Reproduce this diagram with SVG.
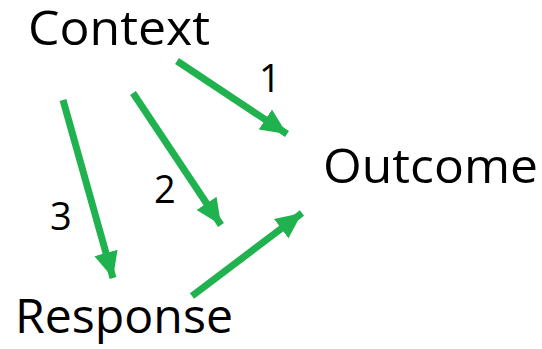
<svg xmlns="http://www.w3.org/2000/svg" width="542" height="349" viewBox="0 0 542 349">
  <style>
    .label { font-family: "Open Sans", "Liberation Sans", sans-serif; font-size: 47px; fill: #000; }
    .num { font-family: "Open Sans", "Liberation Sans", sans-serif; font-size: 38px; fill: #000; }
    .edge { stroke: #1fb24e; stroke-width: 7; fill: none; }
  </style>
  <defs>
    <marker id="head" markerUnits="userSpaceOnUse" markerWidth="28" markerHeight="28" viewBox="0 0 28 28" refX="26" refY="14" orient="auto">
      <path d="M0,2 L26,14 L0,26 Z" fill="#1fb24e"/>
    </marker>
  </defs>
  <rect width="542" height="349" fill="#fff"/>

  <g id="context"><text class="label" x="28" y="45" textLength="182" lengthAdjust="spacingAndGlyphs">Context</text></g>
  <g id="outcome"><text class="label" x="323" y="183" textLength="215" lengthAdjust="spacingAndGlyphs">Outcome</text></g>
  <g id="response"><text class="label" x="15" y="333" textLength="218" lengthAdjust="spacingAndGlyphs">Response</text></g>

  <g id="connectors">
    <line class="edge" x1="177" y1="61" x2="287" y2="134" marker-end="url(#head)"/>
    <line class="edge" x1="133" y1="93" x2="221" y2="225" marker-end="url(#head)"/>
    <line class="edge" x1="63" y1="100" x2="113" y2="278" marker-end="url(#head)"/>
    <line class="edge" x1="192" y1="296" x2="302" y2="213" marker-end="url(#head)"/>
    <text class="num" x="259" y="92">1</text>
    <text class="num" x="154" y="203">2</text>
    <text class="num" x="50" y="230">3</text>
  </g>
</svg>
